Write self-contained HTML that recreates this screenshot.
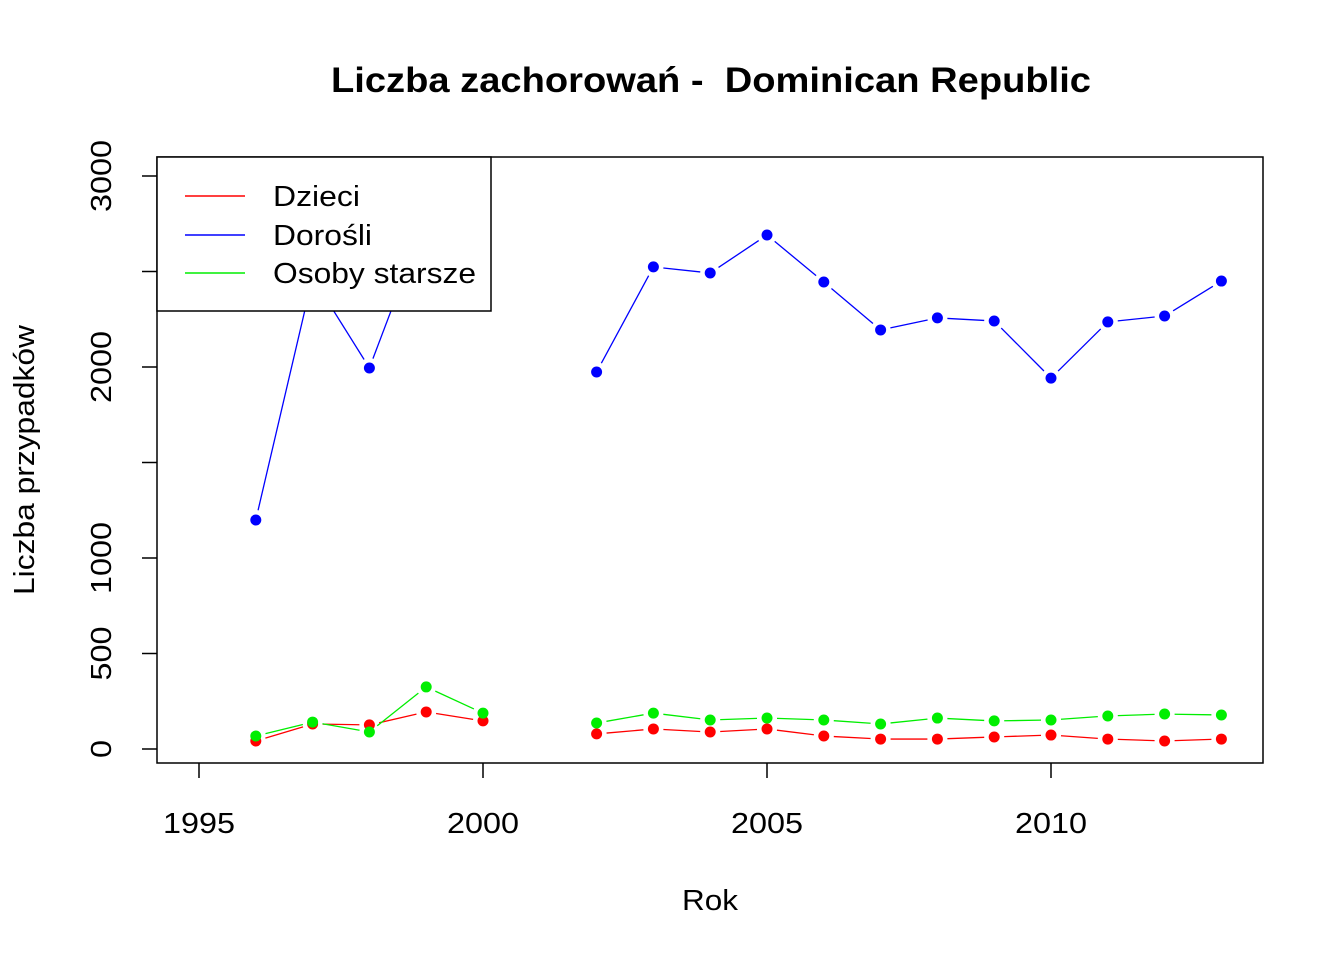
<!DOCTYPE html>
<html><head><meta charset="utf-8"><style>
body{margin:0;background:#fff}
text{font-family:"Liberation Sans",Arial,sans-serif}
</style></head><body>
<svg id="chart" width="1344" height="960" xmlns="http://www.w3.org/2000/svg">
<text x="711" y="92" text-anchor="middle" font-size="35" font-weight="bold" textLength="760" lengthAdjust="spacingAndGlyphs" style="white-space:pre" xml:space="preserve">Liczba zachorowań -  Dominican Republic</text>
<text x="710" y="910" text-anchor="middle" font-size="29" textLength="56" lengthAdjust="spacingAndGlyphs">Rok</text>
<text transform="translate(34,460) rotate(-90)" text-anchor="middle" font-size="29" textLength="270" lengthAdjust="spacingAndGlyphs">Liczba przypadków</text>
<g id="axes"></g>
<g id="series"></g>
<rect x="157" y="157" width="1106" height="606" fill="none" stroke="#000" stroke-width="1.5"/>
<g>
<rect x="157" y="157" width="334" height="154" fill="#fff" stroke="#000" stroke-width="1.5"/>
<line x1="185" y1="196" x2="245" y2="196" stroke="#f00" stroke-width="1.5"/>
<text x="273" y="206" font-size="29" textLength="87" lengthAdjust="spacingAndGlyphs">Dzieci</text>
<line x1="185" y1="235" x2="245" y2="235" stroke="#00f" stroke-width="1.5"/>
<text x="273" y="245" font-size="29" textLength="99" lengthAdjust="spacingAndGlyphs">Dorośli</text>
<line x1="185" y1="273" x2="245" y2="273" stroke="#0e0" stroke-width="1.5"/>
<text x="273" y="283" font-size="29" textLength="203" lengthAdjust="spacingAndGlyphs">Osoby starsze</text>
</g>
</svg>
<script>
const years=[1996,1997,1998,1999,2000,2001,2002,2003,2004,2005,2006,2007,2008,2009,2010,2011,2012,2013];
const dzieci=[42,131,126,194,147,null,79,105,89,105,68,52,52,63,73,52,42,52];
const dorosli=[1199,2470,1995,2780,null,null,1974,2524,2492,2691,2445,2194,2257,2241,1942,2236,2267,2450];
const starsze=[68,141,89,325,188,null,136,188,152,162,152,131,162,147,152,173,183,178];
const xTicks=[1995,2000,2005,2010];
const yTicks=[0,500,1000,1500,2000,2500,3000];
const yLabels=["0","500","1000","","2000","","3000"];
const NS="http://www.w3.org/2000/svg";
const X=v=>199+(v-1995)*(483-199)/5;
const Y=v=>749-v*(749-176)/3000;
function mk(t,a,p){const e=document.createElementNS(NS,t);for(const k in a)e.setAttribute(k,a[k]);p.appendChild(e);return e;}
const ax=document.getElementById('axes');
xTicks.forEach((t,i)=>{
 const l=mk('line',{x1:X(t),y1:763,x2:X(t),y2:778,stroke:'#000','stroke-width':1.5},ax);
 
 
 const tx=mk('text',{x:X(t),y:833,'text-anchor':'middle','font-size':29,textLength:72,lengthAdjust:'spacingAndGlyphs'},ax);tx.textContent=t;
 
 
});
yTicks.forEach((t,i)=>{
 const l=mk('line',{x1:142,y1:Y(t),x2:157,y2:Y(t),stroke:'#000','stroke-width':1.5},ax);
 
 
 if(yLabels[i]){
 const tx=mk('text',{transform:`translate(111,${Y(t)}) rotate(-90)`,'text-anchor':'middle','font-size':29,textLength:yLabels[i].length*18,lengthAdjust:'spacingAndGlyphs'},ax);tx.textContent=yLabels[i];
 
 }
});
const sg=document.getElementById('series');
function series(vals,col,name){
 const g=mk('g',{},sg);
 
 
 for(let i=0;i<vals.length-1;i++){
  if(vals[i]==null||vals[i+1]==null)continue;
  const x1=X(years[i]),y1=Y(vals[i]),x2=X(years[i+1]),y2=Y(vals[i+1]);
  const d=Math.hypot(x2-x1,y2-y1),g0=10;
  if(d<=2*g0)continue;
  const ux=(x2-x1)/d,uy=(y2-y1)/d;
  const l=mk('line',{x1:x1+ux*g0,y1:y1+uy*g0,x2:x2-ux*g0,y2:y2-uy*g0,stroke:col,'stroke-width':1.3},g);
  
  
 }
 vals.forEach((v,i)=>{if(v==null)return;
  const c=mk('circle',{cx:X(years[i]),cy:Y(v),r:5.5,fill:col},g);
  
  
 });
}
series(dorosli,'#00f','dorosli');
series(dzieci,'#f00','dzieci');
series(starsze,'#0e0','osoby-starsze');
</script>
</body></html>
